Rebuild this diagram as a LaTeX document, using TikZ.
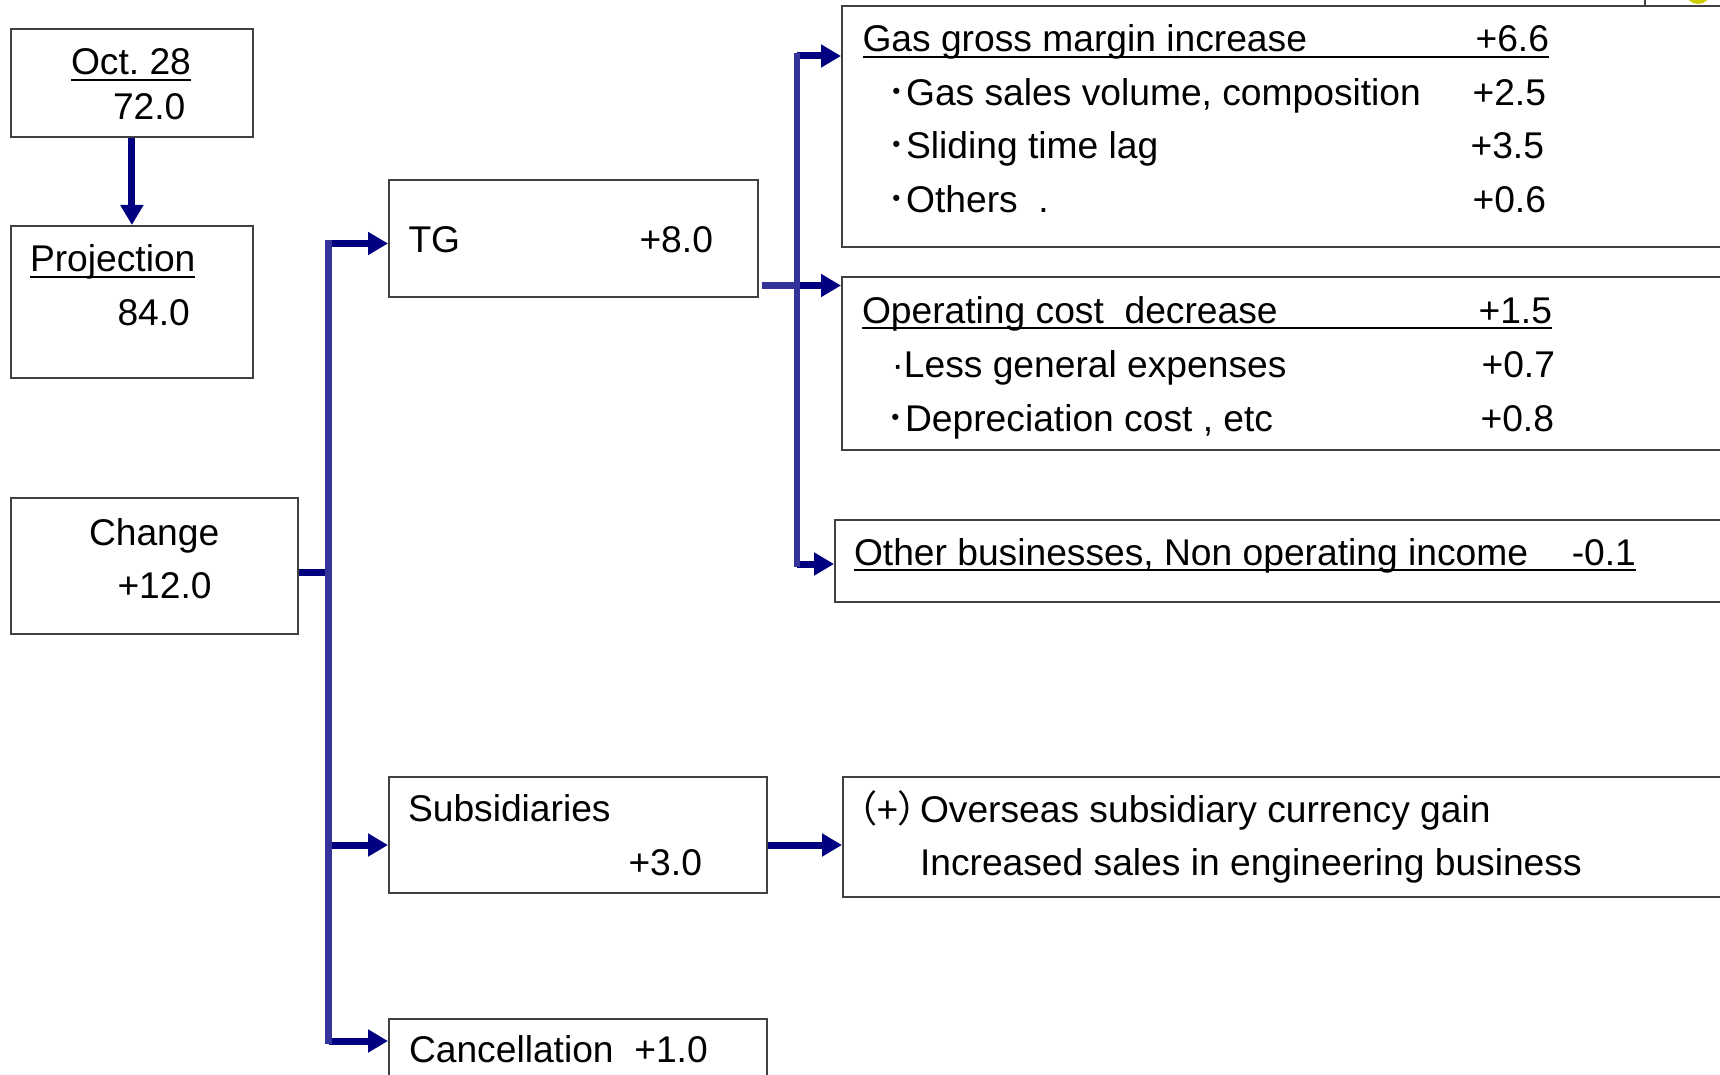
\documentclass[tikz,border=0pt]{standalone}
\usepackage{fontspec}
\setmainfont{Liberation Sans}
\newfontfamily\cjk[RawFeature=+palt]{Noto Sans CJK JP}
\newfontfamily\cjkb{Noto Sans CJK JP}
\usetikzlibrary{arrows.meta}
\definecolor{navyarrow}{HTML}{000080}
\definecolor{busblue}{HTML}{333399}
\definecolor{boxline}{HTML}{404040}
\definecolor{dotyellow}{HTML}{CCCC00}
\newcommand\ulx[1]{\setbox0=\hbox{#1}\rlap{\rule[-0.165em]{\wd0}{0.06em}}\box0}
\newcommand\bul{{\cjkb ･}}
\frenchspacing
\begin{document}
\begin{tikzpicture}[x=1pt,y=-1pt,
  font=\fontsize{37.2}{44}\selectfont,
  box/.style={draw=boxline,line width=1.8pt,fill=none,anchor=north west,inner sep=0pt},
  txt/.style={anchor=base west,inner sep=0pt,outer sep=0pt},
  num/.style={anchor=base east,inner sep=0pt,outer sep=0pt},
  arr/.style={draw=navyarrow,line width=7pt,-{Triangle[width=22pt,length=20pt]}},
  feed/.style={draw=navyarrow,line width=7pt},
  bus/.style={draw=busblue,line width=6.5pt,line cap=rect}]
\useasboundingbox (0,0) rectangle (1720,1075);
\clip (0,0) rectangle (1720,1075);

% partial shapes cut by the top edge
\fill[dotyellow] (1698,-9) circle (13);
\draw[boxline,line width=1.5pt] (1645,-2) -- (1645,5);

% boxes
\node[box,minimum width=242pt,minimum height=108pt] (oct) at (10,28) {};
\node[box,minimum width=242pt,minimum height=152pt] (proj) at (10,225) {};
\node[box,minimum width=287pt,minimum height=136pt] (change) at (10,497) {};
\node[box,minimum width=369pt,minimum height=117pt] (tg) at (388,179) {};
\node[box,minimum width=378pt,minimum height=116pt] (subs) at (388,776) {};
\node[box,minimum width=378pt,minimum height=100pt] (canc) at (388,1018) {};
\node[box,minimum width=940pt,minimum height=241pt] (gas) at (841,5) {};
\node[box,minimum width=940pt,minimum height=173pt] (op) at (841,276) {};
\node[box,minimum width=940pt,minimum height=82pt] (oth) at (834,519) {};
\node[box,minimum width=940pt,minimum height=120pt] (ovs) at (842,776) {};

% texts
\node[txt] (t-oct) at (71,75) {\ulx{Oct. 28}};
\node[txt] (t-72) at (113,120) {72.0};
\node[txt] (t-proj) at (30,272) {\ulx{Projection}};
\node[txt] (t-84) at (117.5,325) {84.0};
\node[txt] (t-chg) at (89,545) {Change};
\node[txt] (t-12) at (117.5,598) {+12.0};
\node[txt] (t-tg) at (408.5,252) {TG};
\node[txt] (t-8) at (639.5,252) {+8.0};
\node[txt] (t-subs) at (408,821) {Subsidiaries};
\node[txt] (t-3) at (628.5,875) {+3.0};
\node[txt] (t-canc) at (409,1062) {Cancellation\ \ +1.0};

\node[txt] (t-gas) at (862.5,52) {\ulx{\makebox[686.5pt][l]{Gas gross margin increase\hfill+6.6}}};
\node[txt] (t-gas1) at (887.5,106) {\bul Gas sales volume, composition};
\node[num] (n-gas1) at (1546,106) {+2.5};
\node[txt] (t-gas2) at (887.5,159) {\bul Sliding time lag};
\node[num] (n-gas2) at (1544,159) {+3.5};
\node[txt] (t-gas3) at (887.5,213) {\bul Others\ \ .};
\node[num] (n-gas3) at (1546,213) {+0.6};

\node[txt] (t-op) at (862,323) {\ulx{\makebox[690pt][l]{Operating cost\ \ decrease\hfill+1.5}}};
\node[txt] (t-op1) at (891.5,377) {·Less general expenses};
\node[num] (n-op1) at (1555,377) {+0.7};
\node[txt] (t-op2) at (886.5,431) {\bul Depreciation cost , etc};
\node[num] (n-op2) at (1554,431) {+0.8};

\node[txt] (t-oth) at (854,565) {\ulx{\makebox[782pt][l]{Other businesses, Non operating income\hfill-0.1}}};

\node[txt] (t-ovs1) at (866,822) {\makebox[54pt][r]{{\cjk （}+{\cjk ）}\hspace{3pt}}Overseas subsidiary currency gain};
\node[txt] (t-ovs2) at (920,875) {Increased sales in engineering business};

% connectors
\coordinate (bus1) at (328.5,572.5);
\coordinate (yTG) at (0,243.5);
\coordinate (ySubs) at (0,845);
\coordinate (yCanc) at (0,1041);
\coordinate (bus2) at (797,285.5);
\coordinate (yGas) at (0,56);
\coordinate (yOth) at (0,564);

\draw[arr] (oct.south) -- (proj.north);

\draw[feed] (change.east |- bus1) -- (bus1);
\draw[arr] (bus1 |- yTG) -- (tg.west |- yTG);
\draw[arr] (bus1 |- ySubs) -- (subs.west |- ySubs);
\draw[arr] (bus1 |- yCanc) -- (canc.west |- yCanc);
\draw[bus] (bus1 |- yTG) -- (bus1 |- yCanc);

\draw[arr] (bus2 |- yGas) -- (gas.west |- yGas);
\draw[arr] (bus2) -- (op.west |- bus2);
\draw[arr] (bus2 |- yOth) -- (oth.west |- yOth);
\draw[bus,line cap=butt,shorten <=3pt] (tg.east |- bus2) -- (bus2);
\draw[bus] (bus2 |- yGas) -- (bus2 |- yOth);

\draw[arr] (subs.east |- ySubs) -- (ovs.west |- ySubs);
\end{tikzpicture}
\end{document}
